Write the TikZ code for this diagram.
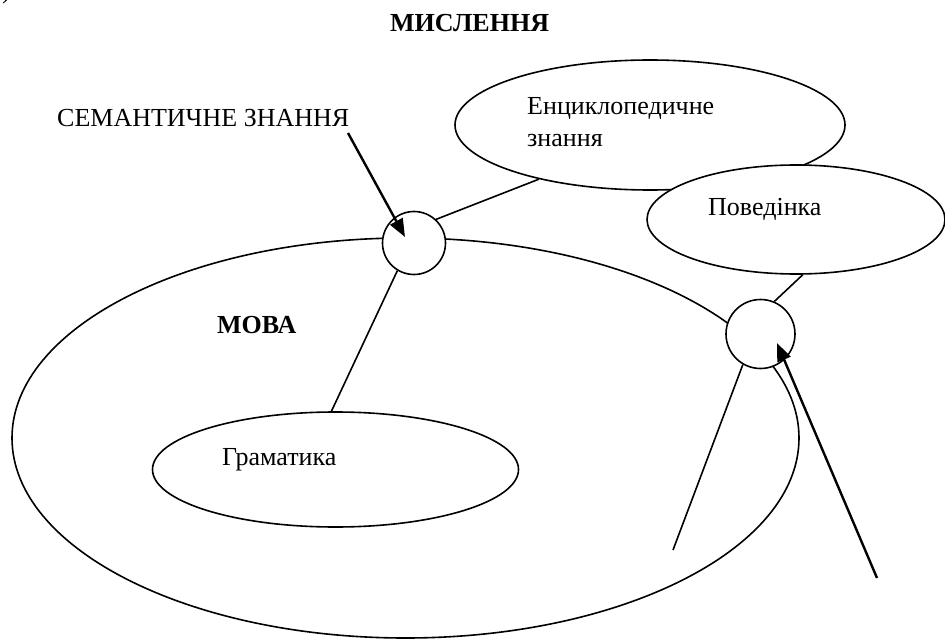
\documentclass[tikz,border=0pt]{standalone}
\usepackage{fontspec}
\setmainfont{Liberation Serif}
\usetikzlibrary{arrows.meta,shapes.geometric}
\begin{document}
\begin{tikzpicture}[x=1pt,y=-1pt,
  shp/.style={draw,line width=1.6pt,inner sep=0pt},
  ln/.style={line width=1.6pt},
  arr/.style={line width=2.4pt,-{Triangle[length=18pt,width=14pt]}},
  txt/.style={font=\fontsize{26}{32}\selectfont,inner sep=0pt,anchor=base west},
  btxt/.style={font=\fontsize{26}{32}\selectfont\bfseries,inner sep=0pt,anchor=base west}]
\useasboundingbox (0,0) rectangle (945,639);
\node[font=\fontsize{26}{32}\selectfont,anchor=base east,inner sep=0pt] (par) at (11,-1) {)};
% shapes
\node[shp,ellipse,minimum width=787pt,minimum height=400pt] (big) at (405.5,438) {};
\node[shp,ellipse,minimum width=390pt,minimum height=130pt] (enc) at (650,125) {};
\node[shp,ellipse,minimum width=298pt,minimum height=109pt,fill=white] (beh) at (796,219.5) {};
\node[shp,ellipse,minimum width=366pt,minimum height=115pt] (gram) at (335.5,469.5) {};
\node[shp,circle,minimum size=63pt,fill=white] (c1) at (414,243) {};
\node[shp,circle,minimum size=69pt,fill=white] (c2) at (760.5,334) {};
% texts
\node[btxt] (mysl) at (390,32) {МИСЛЕННЯ};
\node[btxt] (mova) at (217,333) {МОВА};
\node[txt] (sem) at (57,127) {СЕМАНТИЧНЕ ЗНАННЯ};
\node[txt] (enct1) at (527,115) {Енциклопедичне};
\node[txt] (enct2) at (527,147) {знання};
\node[txt] (beht) at (708,215) {Поведінка};
\node[txt] (gramt) at (222,465) {Граматика};
% connectors
\coordinate (f1) at (673,550);
\coordinate (s1) at (348,133);
\coordinate (a1) at (405,237);
\coordinate (s2) at (877,578);
\coordinate (a2) at (777,343);
\draw[ln] (c1.47) -- (enc.206);
\draw[ln] (c1.239) -- (gram.94);
\draw[ln] (c2.67) -- (beh.277);
\draw[ln] (c2.240) -- (f1);
\draw[arr] (s1) -- (a1);
\draw[arr] (s2) -- (a2);
\end{tikzpicture}
\end{document}
